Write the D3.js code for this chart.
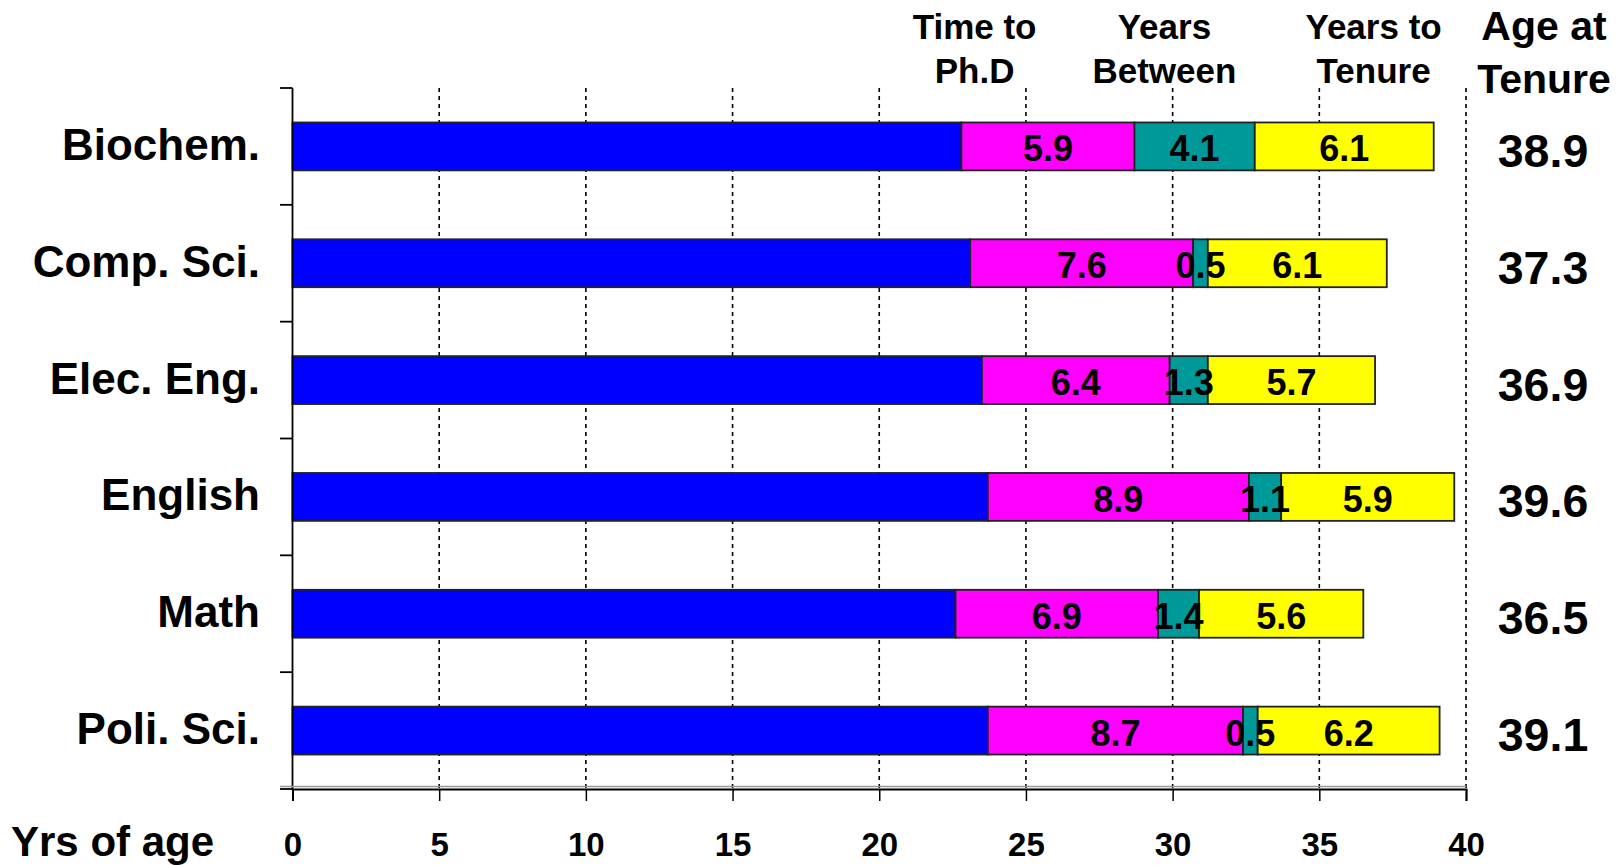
<!DOCTYPE html>
<html>
<head>
<meta charset="utf-8">
<script src="https://cdn.jsdelivr.net/npm/d3@7"></script>
<style>
  html, body { margin: 0; padding: 0; background: #fff; }
  svg { display: block; }
  text { font-family: "Liberation Sans", Arial, sans-serif; font-weight: bold; fill: #000; }
</style>
</head>
<body>
<script>
const categories = ["Biochem.", "Comp. Sci.", "Elec. Eng.", "English", "Math", "Poli. Sci."];
const ageAtPhDStart = [22.8, 23.1, 23.5, 23.7, 22.6, 23.7];
const timeToPhD = [5.9, 7.6, 6.4, 8.9, 6.9, 8.7];
const yearsBetween = [4.1, 0.5, 1.3, 1.1, 1.4, 0.5];
const yearsToTenure = [6.1, 6.1, 5.7, 5.9, 5.6, 6.2];
const ageAtTenure = [38.9, 37.3, 36.9, 39.6, 36.5, 39.1];
const xTicks = [0, 5, 10, 15, 20, 25, 30, 35, 40];
const seriesColors = ["#0000FF", "#FF00FF", "#009999", "#FFFF00"];
const headerLabels = [["Time to", "Ph.D"], ["Years", "Between"], ["Years to", "Tenure"]];
const rightHeader = ["Age at", "Tenure"];
const xAxisTitle = "Yrs of age";

const W = 1621, H = 865;
const svg = d3.select("body").append("svg").attr("width", W).attr("height", H);

const x = d3.scaleLinear().domain([0, 40]).range([292.5, 1466]);
const y = d3.scaleBand().domain(categories).range([88, 789]).paddingInner(0.59).paddingOuter(0.295);
const step = y.step();
const mid = c => y(c) + y.bandwidth() / 2;

const rows = categories.map((c, i) => {
  const vals = [ageAtPhDStart[i], timeToPhD[i], yearsBetween[i], yearsToTenure[i]];
  let acc = 0;
  const segs = vals.map((v, k) => { const s = { x0: acc, x1: acc + v, v, k }; acc += v; return s; });
  return { c, segs, total: ageAtTenure[i] };
});

// dotted gridlines
svg.append("g").selectAll("line").data(xTicks.filter(d => d > 0)).join("line")
  .attr("x1", d => x(d)).attr("x2", d => x(d))
  .attr("y1", 88).attr("y2", 789)
  .attr("stroke", "#000").attr("stroke-width", 1.6).attr("stroke-dasharray", "4,4");

// bars
const rowG = svg.append("g").selectAll("g").data(rows).join("g");
rowG.selectAll("rect").data(d => d.segs.map(s => ({ ...s, c: d.c }))).join("rect")
  .attr("x", s => x(s.x0)).attr("width", s => x(s.x1) - x(s.x0))
  .attr("y", s => y(s.c)).attr("height", y.bandwidth())
  .attr("fill", s => seriesColors[s.k])
  .attr("stroke", "#222").attr("stroke-width", 1.8);

// segment labels
rowG.selectAll("text.val").data(d => d.segs.filter(s => s.k > 0).map(s => ({ ...s, c: d.c }))).join("text")
  .attr("class", "val")
  .attr("x", s => x((s.x0 + s.x1) / 2)).attr("y", s => mid(s.c) + 15)
  .attr("text-anchor", "middle")
  .attr("font-size", 36)
  .text(s => s.v.toFixed(1));

// right totals
svg.append("g").selectAll("text").data(rows).join("text")
  .attr("x", 1543).attr("y", d => mid(d.c) + 20.5)
  .attr("text-anchor", "middle")
  .attr("font-size", 46.5)
  .text(d => d.total.toFixed(1));

// category labels
svg.append("g").selectAll("text").data(categories).join("text")
  .attr("x", 260).attr("y", d => mid(d) + 13.5)
  .attr("text-anchor", "end")
  .attr("font-size", 44)
  .text(d => d);

// left axis
const yAx = svg.append("g");
yAx.append("line").attr("x1", 292.5).attr("x2", 292.5).attr("y1", 88).attr("y2", 789)
  .attr("stroke", "#000").attr("stroke-width", 1.8);
yAx.selectAll("line.tk").data(d3.range(categories.length + 1)).join("line").attr("class", "tk")
  .attr("x1", 280).attr("x2", 292.5)
  .attr("y1", i => 88 + i * step).attr("y2", i => 88 + i * step)
  .attr("stroke", "#000").attr("stroke-width", 1.8);

// bottom axis
const xAxisG = svg.append("g").attr("transform", "translate(0,789)")
  .call(d3.axisBottom(x).tickValues(xTicks).tickSize(12).tickFormat(d3.format("d")));
xAxisG.select(".domain").attr("stroke", "#000").attr("stroke-width", 2);
xAxisG.selectAll(".tick line").attr("stroke", "#000").attr("stroke-width", 1.5);
xAxisG.selectAll(".tick text").attr("font-size", 33).attr("font-family", "Liberation Sans, Arial, sans-serif")
  .attr("font-weight", "bold").attr("fill", "#000").attr("dy", null).attr("y", 67);
svg.append("line").attr("x1", 280).attr("x2", 1466).attr("y1", 786.5).attr("y2", 786.5)
  .attr("stroke", "#999").attr("stroke-width", 1.5);

svg.append("text").attr("x", 11).attr("y", 856)
  .attr("font-size", 42).text(xAxisTitle);

// headers
const headerX = [x(23.25), x(29.72), x(36.85)];
headerLabels.forEach((lines, i) => {
  lines.forEach((t, j) => {
    svg.append("text").attr("x", headerX[i]).attr("y", 39 + j * 44)
      .attr("text-anchor", "middle").attr("font-size", 35).text(t);
  });
});
rightHeader.forEach((t, j) => {
  svg.append("text").attr("x", 1544).attr("y", 40 + j * 53)
    .attr("text-anchor", "middle").attr("font-size", 41).text(t);
});
</script>
</body>
</html>
